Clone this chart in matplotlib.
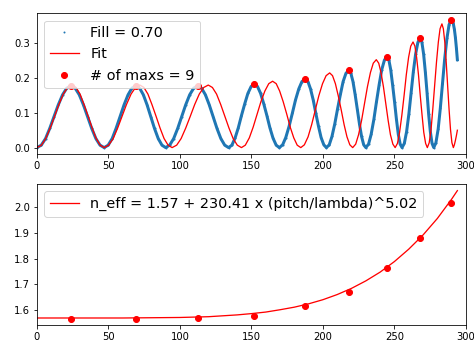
import numpy as np
import matplotlib
matplotlib.use("Agg")
import matplotlib.pyplot as plt

meas_x = [0, 3.0, 6.0, 8.9, 11.9, 14.9, 17.9, 20.8, 23.8,
          26.7, 29.6, 32.5, 35.4, 38.3, 41.2, 44.1, 47.0,
          49.8, 52.6, 55.3, 58.1, 60.9, 63.7, 66.4, 69.2,
          71.8, 74.4, 77.0, 79.6, 82.2, 84.8, 87.4, 90.0,
          92.8, 95.6, 98.4, 101.2, 104.0, 106.8, 109.6, 112.4,
          115.1, 117.8, 120.5, 123.2, 125.9, 128.6, 131.3, 134.0,
          136.3, 138.5, 140.8, 143.0, 145.3, 147.5, 149.8, 152.0,
          154.2, 156.4, 158.6, 160.8, 162.9, 165.1, 167.3, 169.5,
          171.8, 174.0, 176.3, 178.6, 180.8, 183.1, 185.3, 187.6,
          189.5, 191.3, 193.2, 195.0, 196.9, 198.7, 200.6, 202.4,
          204.4, 206.3, 208.3, 210.2, 212.2, 214.1, 216.1, 218.0,
          219.5, 221.0, 222.5, 224.0, 225.5, 227.0, 228.5, 230.0,
          231.9, 233.7, 235.6, 237.4, 239.3, 241.1, 243.0, 244.8,
          246.1, 247.4, 248.7, 250.1, 251.4, 252.7, 254.0, 255.3,
          256.9, 258.5, 260.1, 261.7, 263.2, 264.8, 266.4, 268.0,
          269.2, 270.4, 271.6, 272.8, 273.9, 275.1, 276.3, 277.5,
          279.0, 280.6, 282.1, 283.6, 285.1, 286.7, 288.2, 289.7,
          290.4, 291.1, 291.9, 292.6, 293.3, 294.0]
meas_y = [0, .007, .026, .055, .089, .123, .152, .171, .178,
          .171, .152, .123, .089, .055, .026, .007, 0,
          .007, .026, .055, .089, .123, .152, .171, .178,
          .171, .152, .123, .089, .055, .026, .007, 0,
          .007, .026, .055, .089, .123, .152, .171, .178,
          .171, .152, .123, .089, .055, .026, .007, 0,
          .007, .027, .057, .092, .126, .156, .176, .183,
          .176, .156, .126, .092, .057, .027, .007, 0,
          .008, .029, .061, .099, .137, .169, .190, .198,
          .190, .169, .137, .099, .061, .029, .008, 0,
          .008, .032, .069, .111, .153, .190, .214, .222,
          .214, .190, .153, .111, .069, .032, .008, 0,
          .010, .038, .081, .131, .181, .224, .252, .262,
          .252, .224, .181, .131, .081, .038, .010, 0,
          .012, .046, .097, .158, .218, .269, .303, .315,
          .303, .269, .218, .158, .097, .046, .012, 0,
          .014, .054, .114, .184, .254, .314, .354, .368,
          .366, .358, .341, .318, .288, .253]

# fitted curve (red line)
fit_x = [0, 3.1, 6.1, 9.2, 12.3, 15.3, 18.4, 21.4, 24.5,
         27.3, 30.1, 32.9, 35.8, 38.6, 41.4, 44.2, 47.0,
         50.1, 53.3, 56.4, 59.5, 62.6, 65.8, 68.9, 72.0,
         74.8, 77.6, 80.4, 83.3, 86.1, 88.9, 91.7, 94.5,
         97.7, 100.8, 104.0, 107.2, 110.3, 113.5, 116.6, 119.8,
         122.7, 125.6, 128.5, 131.4, 134.3, 137.2, 140.1, 143.0,
         145.7, 148.5, 151.2, 153.9, 156.6, 159.4, 162.1, 164.8,
         167.3, 169.7, 172.2, 174.7, 177.1, 179.6, 182.0, 184.5,
         187.0, 189.6, 192.1, 194.6, 197.1, 199.7, 202.2, 204.7,
         206.7, 208.7, 210.7, 212.8, 214.8, 216.8, 218.8, 220.8,
         222.9, 224.9, 227.0, 229.1, 231.1, 233.2, 235.2, 237.3,
         239.0, 240.6, 242.3, 243.9, 245.6, 247.2, 248.9, 250.5,
         252.1, 253.6, 255.2, 256.8, 258.3, 259.9, 261.4, 263.0,
         264.3, 265.5, 266.8, 268.0, 269.3, 270.5, 271.8, 273.0,
         274.3, 275.6, 276.8, 278.1, 279.4, 280.7, 281.9, 283.2,
         284.2, 285.2, 286.2, 287.2, 288.2, 289.2, 290.2, 291.2,
         291.9, 292.6, 293.3, 294.0]
fit_y = [0, .007, .026, .056, .090, .124, .154, .173, .180,
         .173, .154, .124, .090, .056, .026, .007, 0,
         .007, .026, .056, .090, .124, .154, .173, .180,
         .173, .154, .124, .090, .056, .026, .007, 0,
         .007, .026, .056, .090, .124, .154, .173, .180,
         .173, .154, .124, .090, .056, .026, .007, 0,
         .007, .028, .059, .096, .132, .163, .184, .191,
         .184, .163, .132, .096, .059, .028, .007, 0,
         .008, .031, .066, .108, .149, .184, .207, .215,
         .207, .184, .149, .108, .066, .031, .008, 0,
         .010, .037, .078, .127, .175, .216, .243, .253,
         .243, .216, .175, .127, .078, .037, .010, 0,
         .012, .044, .094, .152, .210, .260, .292, .304,
         .292, .260, .210, .152, .094, .044, .012, 0,
         .014, .052, .110, .178, .246, .304, .342, .356,
         .342, .304, .246, .178, .110, .052, .014, 0,
         .008, .020, .034, .050]

# maxima positions and effective index
max_x = [23.8, 69.2, 112.4, 152.0, 187.6, 218.0, 244.8, 268.0, 289.7]
max_y = [0.178, 0.178, 0.178, 0.183, 0.198, 0.222, 0.262, 0.315, 0.368]
n_eff = [1.568, 1.568, 1.570, 1.578, 1.615, 1.670, 1.765, 1.882, 2.016]

# power-law fit of n_eff
neff_fit_x = [0, 20, 40, 60, 80, 100, 120, 140, 150, 160, 170, 180, 190,
              200, 210, 220, 230, 240, 250, 260, 270, 280, 290, 294]
neff_fit_y = [1.570, 1.570, 1.570, 1.570, 1.571, 1.572, 1.575, 1.582,
              1.587, 1.593, 1.602, 1.612, 1.625, 1.641, 1.661, 1.685,
              1.714, 1.748, 1.789, 1.837, 1.892, 1.956, 2.031, 2.064]

fig, (ax1, ax2) = plt.subplots(2, 1, figsize=(474 / 72, 342 / 72), dpi=72)
fig.subplots_adjust(left=0.078, right=0.983, top=0.961, bottom=0.05, hspace=0.215)

ax1.plot(meas_x, meas_y, "-", color="C0", lw=3)
ax1.plot(meas_x, meas_y, ".", color="C0", ms=2, label="Fill = 0.70")
ax1.plot(fit_x, fit_y, "r-", lw=1.3, label="Fit")
ax1.plot(max_x, max_y, "ro", ms=6, label="# of maxs = 9")
ax1.set_xlim(0, 300)
ax1.legend(loc="upper left", fontsize=14.4)

ax2.plot(neff_fit_x, neff_fit_y, "r-", lw=1.3,
         label="n_eff = 1.57 + 230.41 x (pitch/lambda)^5.02")
ax2.plot(max_x, n_eff, "ro", ms=6)
ax2.set_xlim(0, 300)
ax2.legend(loc="upper left", fontsize=14.4)

fig.savefig("out.png", dpi=72)
